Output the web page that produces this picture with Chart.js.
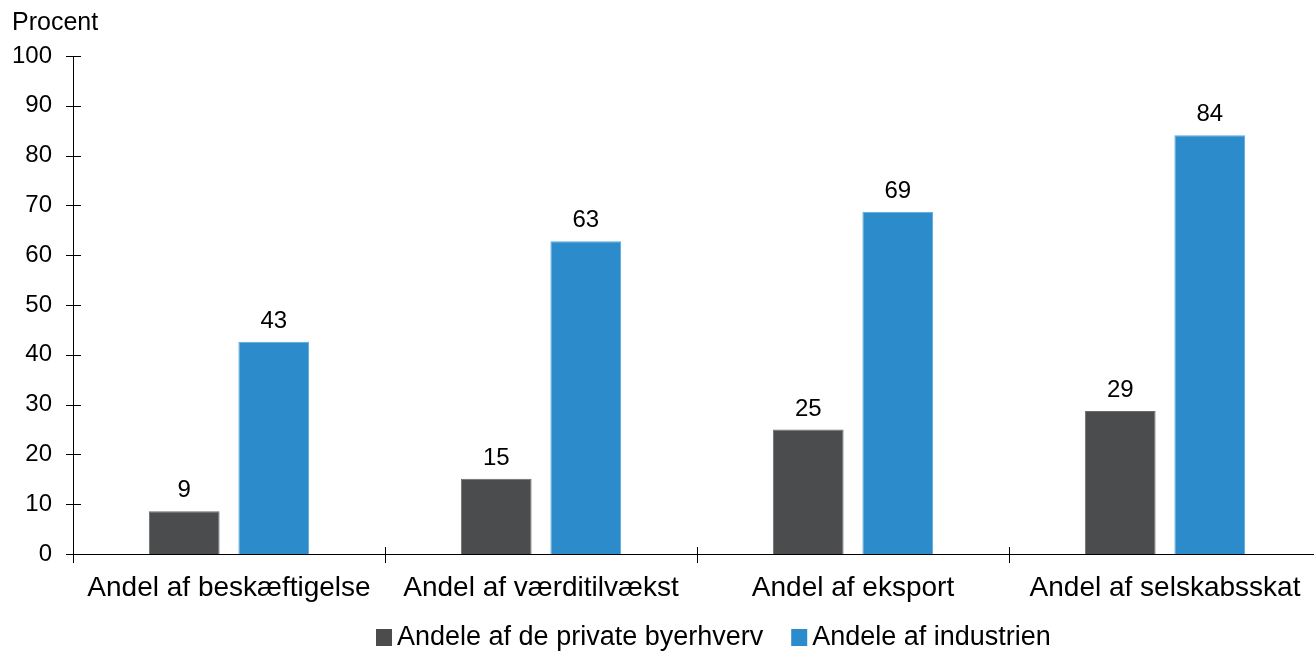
<!DOCTYPE html>
<html>
<head>
<meta charset="utf-8">
<script src="https://cdn.jsdelivr.net/npm/chart.js@4"></script>
<style>
  html, body { margin: 0; padding: 0; background: #fff; overflow: hidden; }
  #wrap { width: 1322px; height: 651px; }
</style>
</head>
<body>
<div id="wrap"><canvas id="barChart"></canvas></div>
<script>
var categories = ["Andel af beskæftigelse", "Andel af værditilvækst", "Andel af eksport", "Andel af selskabsskat"];
var privateShare = [8.6, 15.1, 25.0, 28.7];
var industryShare = [42.6, 62.8, 68.7, 84.1];
var yTicks = [0, 10, 20, 30, 40, 50, 60, 70, 80, 90, 100];

var FONT = "'Liberation Sans', Arial, sans-serif";
Chart.defaults.font.family = FONT;
Chart.defaults.color = "#000";

// axis title, crossing ticks, value labels and legend
var extras = {
  id: 'extras',
  afterDraw: function (chart) {
    var ctx = chart.ctx, x = chart.scales.x, y = chart.scales.y;
    var area = chart.chartArea;
    ctx.save();
    ctx.strokeStyle = "#000";
    ctx.lineWidth = 1;
    // y ticks crossing the axis
    yTicks.forEach(function (v) {
      var py = Math.round(y.getPixelForValue(v)) + 0.5;
      ctx.beginPath();
      ctx.moveTo(area.left - 7, py);
      ctx.lineTo(area.left + 8, py);
      ctx.stroke();
    });
    // category separators on x axis
    var w = (area.right - area.left) / categories.length;
    for (var i = 0; i <= categories.length; i++) {
      var px = Math.round(area.left + i * w) + 0.5;
      ctx.beginPath();
      ctx.moveTo(px, area.bottom - 7);
      ctx.lineTo(px, area.bottom + 9);
      ctx.stroke();
    }
    // axis title
    ctx.fillStyle = "#000";
    ctx.font = "25px " + FONT;
    ctx.textAlign = "left";
    ctx.textBaseline = "middle";
    ctx.fillText("Procent", 12, 23);
    // value labels
    ctx.font = "24px " + FONT;
    ctx.textAlign = "center";
    ctx.textBaseline = "alphabetic";
    chart.data.datasets.forEach(function (ds, di) {
      chart.getDatasetMeta(di).data.forEach(function (bar, j) {
        ctx.fillText(String(Math.round(ds.data[j])), bar.x, bar.y - 14);
      });
    });
    // legend
    ctx.font = "27px " + FONT;
    ctx.textAlign = "left";
    ctx.textBaseline = "middle";
    var lx = 376, ly = 637;
    chart.data.datasets.forEach(function (ds) {
      ctx.fillStyle = ds.backgroundColor;
      ctx.fillRect(lx, ly - 8, 16, 17);
      ctx.fillStyle = "#000";
      ctx.fillText(ds.label, lx + 21, ly + 1);
      lx += 21 + ctx.measureText(ds.label).width + 28;
    });
    ctx.restore();
  }
};

new Chart(document.getElementById("barChart").getContext("2d"), {
  type: 'bar',
  data: {
    labels: categories,
    datasets: [{
      label: 'Andele af de private byerhverv',
      backgroundColor: "#4b4c4e",
      borderColor: "#6a6b6d",
      borderWidth: 1,
      data: privateShare
    }, {
      label: 'Andele af industrien',
      backgroundColor: "#2b8bcb",
      borderColor: "#5aa8dc",
      borderWidth: 1,
      data: industryShare
    }]
  },
  options: {
    responsive: true,
    maintainAspectRatio: false,
    animation: false,
    layout: { padding: { top: 56, right: 1, left: 0, bottom: 47 } },
    datasets: { bar: { categoryPercentage: 0.574, barPercentage: 0.79 } },
    plugins: {
      tooltip: { enabled: false },
      legend: { display: false }
    },
    scales: {
      x: {
        grid: { display: false },
        border: { display: true, color: "#000", width: 1 },
        ticks: { font: { size: 28 }, color: "#000", padding: 9, maxRotation: 0 },
        afterFit: function (s) { s.height = 50; }
      },
      y: {
        min: 0, max: 100,
        grid: { display: false },
        border: { display: true, color: "#000", width: 1 },
        ticks: { stepSize: 10, font: { size: 24 }, color: "#000", padding: 13 },
        afterFit: function (s) { s.width = 73; }
      }
    }
  },
  plugins: [extras]
});
</script>
</body>
</html>
